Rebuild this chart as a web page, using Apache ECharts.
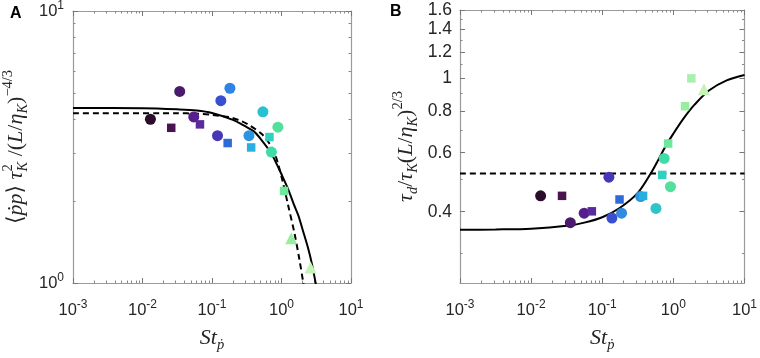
<!DOCTYPE html>
<html><head><meta charset="utf-8">
<script src="https://cdn.jsdelivr.net/npm/echarts@6/dist/echarts.min.js"></script>
<style>html,body{margin:0;padding:0;background:#fff}#c{width:760px;height:358px}</style>
</head><body><div id="c"></div>
<script>
// ---------------- data ----------------
const xTickValues = [0.001, 0.01, 0.1, 1, 10];
const xTickExponents = ['-3', '-2', '-1', '0', '1'];
const yTickValuesA = [1, 10];
const yTickExponentsA = ['0', '1'];
const yTickValuesB = [0.4, 0.6, 0.8, 1, 1.2, 1.4, 1.6];
const yTickLabelsB = ['0.4', '0.6', '0.8', '1', '1.2', '1.4', '1.6'];
const yMinorB = [0.3, 0.5, 0.7, 0.9, 1.1, 1.3, 1.5];
const yRangeB = [0.245, 1.6];

// Panel A: <pp> tau_K^2 / (L/eta_K)^(-4/3)
const A_circle_St  = [0.013, 0.0343, 0.0546, 0.120, 0.134, 0.181, 0.34, 0.54, 0.716, 0.887];
const A_circle_val = [4.0, 5.06, 4.08, 3.48, 4.68, 5.2, 3.48, 4.26, 3.03, 3.74];
const A_square_St  = [0.0259, 0.0671, 0.168, 0.366, 0.671, 1.09];
const A_square_val = [3.72, 3.83, 3.27, 3.15, 3.44, 2.18];
const A_tri_St     = [1.38, 2.62];
const A_tri_val    = [1.46, 1.14];
const A_solid_St   = [0.001, 0.01, 0.0316, 0.06, 0.1, 0.2, 0.3, 0.4, 0.5, 0.7, 0.8, 1.0, 1.25, 1.5, 1.75, 2.0, 2.4, 2.75, 3.1, 3.3];
const A_solid_val  = [4.40, 4.39, 4.35, 4.31, 4.22, 3.98, 3.77, 3.61, 3.39, 3.02, 2.83, 2.51, 2.21, 1.95, 1.77, 1.58, 1.35, 1.17, 1.0, 0.93];
const A_dash_St    = [0.001, 0.03, 0.063, 0.1, 0.178, 0.25, 0.34, 0.52, 0.68, 0.79, 0.9, 1.05, 1.24, 1.54, 1.81, 2.06, 2.15];
const A_dash_val   = [4.21, 4.21, 4.19, 4.15, 4.07, 3.96, 3.81, 3.53, 3.24, 3.02, 2.72, 2.34, 1.94, 1.52, 1.22, 1.0, 0.93];

// Panel B: tau_d / tau_K (L/eta_K)^(2/3)
const B_circle_St  = [0.0136, 0.0356, 0.0557, 0.124, 0.137, 0.187, 0.347, 0.569, 0.743, 0.91];
const B_circle_val = [0.446, 0.371, 0.396, 0.507, 0.383, 0.396, 0.444, 0.409, 0.577, 0.475];
const B_square_St  = [0.0272, 0.0714, 0.175, 0.375, 0.697, 0.845, 1.46, 1.79];
const B_square_val = [0.446, 0.401, 0.435, 0.446, 0.515, 0.639, 0.826, 1.0];
const B_tri_St     = [2.69];
const B_tri_val    = [0.928];
const B_solid_St   = [0.001, 0.00316, 0.01, 0.0316, 0.056, 0.1, 0.178, 0.316, 0.48, 0.63, 0.79, 1.0, 1.41, 2.0, 3.16, 5.62, 10];
const B_solid_val  = [0.353, 0.354, 0.356, 0.363, 0.371, 0.385, 0.411, 0.455, 0.520, 0.577, 0.631, 0.684, 0.762, 0.836, 0.920, 0.986, 1.023];
const B_dash_St    = [0.001, 10];
const B_dash_val   = [0.52, 0.52];

// ---------------- styles ----------------
const A_circle_col = ['#2b0d2b', '#4a1a6e', '#561f8c', '#4636b8', '#3a4fd0', '#2e83e3', '#2b95e0', '#27c2cf', '#40dca8', '#52e09c'];
const A_square_col = ['#4a1450', '#5b2a9c', '#2f6ad9', '#28aee0', '#2fd0c0', '#6ee89a'];
const A_tri_col    = ['#98ee9e', '#c4f4b8'];
const B_circle_col = ['#2b0d2b', '#4a1a6e', '#561f8c', '#4636b8', '#3a4fd0', '#2f8ae0', '#2b95e0', '#2ec4c8', '#40dca8', '#52e09c'];
const B_square_col = ['#4a1450', '#5b2a9c', '#2f6ad9', '#28aee0', '#2fd0c0', '#6ee89a', '#98ee9e', '#a8f0b0'];
const B_tri_col    = ['#c4f4b8'];

const SANS = 'Liberation Sans, Arial, sans-serif';
const SERIF = 'Liberation Serif, DejaVu Serif, serif';
const TXT = '#262626';
const AXC = '#9a9a9a';
const L = Math.log10;

function minorsBetween(lo, hi) {
  const out = [];
  for (let e = Math.floor(L(lo)); e < Math.ceil(L(hi)); e++)
    for (let m = 2; m <= 9; m++) out.push(L(m * Math.pow(10, e)));
  return out;
}
function pick(val, list, labels) {
  let bi = 0, bd = Infinity;
  list.forEach((v, i) => { const d = Math.abs(L(v) - val); if (d < bd) { bd = d; bi = i; } });
  return labels[bi];
}

const powRich = {
  b: { fontSize: 16.5, lineHeight: 22, fontFamily: SANS, color: TXT },
  s: { fontSize: 12, lineHeight: 12, fontFamily: SANS, color: TXT, verticalAlign: 'top' }
};

function buildAxes(dim, grid, min, max, majors, minors, label, name) {
  const pos = dim === 'x' ? ['bottom', 'top'] : ['left', 'right'];
  const common = { type: 'value', gridIndex: grid, min, max, scale: true, splitLine: { show: false } };
  const axes = [];
  pos.forEach((p, k) => {
    axes.push(Object.assign({}, common, {
      position: p,
      axisLine: { show: true, onZero: false, lineStyle: { color: AXC, width: 1.2 } },
      axisTick: { show: true, inside: true, length: 5, customValues: majors, lineStyle: { color: '#777', width: 1 } },
      axisLabel: k === 0 ? label : { show: false },
      name: k === 0 ? name.text : '',
      nameLocation: 'middle', nameGap: name.gap, nameRotate: dim === 'y' ? 90 : 0,
      nameTextStyle: name.style
    }));
    axes.push(Object.assign({}, common, {
      position: p,
      axisLine: { show: false, onZero: false },
      axisTick: { show: true, inside: true, length: 2.5, customValues: minors, lineStyle: { color: '#888', width: 1 } },
      axisLabel: { show: false }
    }));
  });
  return axes;
}

const nameRich = {
  n: { fontFamily: SERIF, fontSize: 22, lineHeight: 30, color: TXT },
  i: { fontFamily: SERIF, fontSize: 22, lineHeight: 30, fontStyle: 'italic', color: TXT },
  sp: { fontFamily: SERIF, fontSize: 14.5, lineHeight: 15, verticalAlign: 'top', color: TXT },
  sp0: { fontFamily: SERIF, fontSize: 14.5, lineHeight: 15, verticalAlign: 'top', color: TXT, padding: [0, -7.2, 0, 0] },
  sb: { fontFamily: SERIF, fontSize: 14.5, lineHeight: 15, verticalAlign: 'bottom', fontStyle: 'italic', color: TXT }
};
const nameStyle = { fontFamily: SERIF, fontSize: 22, color: TXT, rich: nameRich };

const xMajors = xTickValues.map(L);
const xMinors = minorsBetween(0.001, 10);
const xLabel = {
  show: true, margin: 16, customValues: xMajors, rich: powRich,
  formatter: v => '{b|10}{s|' + pick(v, xTickValues, xTickExponents) + '}'
};
const xName = { text: '{i|St}{sb|ṗ}', gap: 40, style: nameStyle };

const yMajorsA = yTickValuesA.map(L);
const yMinorsA = minorsBetween(1, 10);
const yLabelA = {
  show: true, margin: 9, customValues: yMajorsA, rich: powRich,
  formatter: v => '{b|10}{s|' + pick(v, yTickValuesA, yTickExponentsA) + '}'
};
const yNameA = {
  text: '{n|⟨}{i|ṗp}{n|⟩ }{i|τ}{sp0|2}{sb|K}{n| /(}{i|L}{n|/}{i|η}{sb|K}{n|)}{sp|−4/3}',
  gap: 42, style: nameStyle
};

const yMajorsB = yTickValuesB.map(L);
const yMinorsB = yMinorB.map(L);
const yLabelB = {
  show: true, margin: 8, customValues: yMajorsB, fontSize: 17.5, fontFamily: SANS, color: TXT,
  formatter: v => pick(v, yTickValuesB, yTickLabelsB)
};
const yNameB = {
  text: '{i|τ}{sb|d}{n|/}{i|τ}{sb|K}{n|(}{i|L}{n|/}{i|η}{sb|K}{n|)}{sp|2/3}',
  gap: 39, style: nameStyle
};

const xAxes = [].concat(
  buildAxes('x', 0, -3, 1, xMajors, xMinors, xLabel, xName),
  buildAxes('x', 1, -3, 1, xMajors, xMinors, xLabel, xName)
);
const yAxes = [].concat(
  buildAxes('y', 0, 0, 1, yMajorsA, yMinorsA, yLabelA, yNameA),
  buildAxes('y', 1, L(yRangeB[0]), L(yRangeB[1]), yMajorsB, yMinorsB, yLabelB, yNameB)
);

function pts(xs, ys, cols) {
  return xs.map((x, i) => cols ? { value: [L(x), L(ys[i])], itemStyle: { color: cols[i] } } : [L(x), L(ys[i])]);
}
function scatter(panel, symbol, size, xs, ys, cols) {
  return { type: 'scatter', xAxisIndex: panel * 4, yAxisIndex: panel * 4, symbol, symbolSize: size,
    data: pts(xs, ys, cols), itemStyle: { opacity: 1 }, z: 3, silent: true };
}
function line(panel, xs, ys, dashed) {
  return { type: 'line', xAxisIndex: panel * 4, yAxisIndex: panel * 4, data: pts(xs, ys), showSymbol: false,
    smooth: 0.3, clip: true, silent: true, z: 2,
    lineStyle: { color: '#000', width: 2, type: dashed ? [6, 4] : 'solid' } };
}

const option = {
  animation: false,
  backgroundColor: '#fff',
  title: [
    { text: 'A', left: 10, top: 6, padding: 0, textStyle: { fontSize: 16, fontWeight: 'bold', fontFamily: SANS, color: '#000' } },
    { text: 'B', left: 390, top: 4, padding: 0, textStyle: { fontSize: 16, fontWeight: 'bold', fontFamily: SANS, color: '#000' } }
  ],
  grid: [
    { left: 67, top: 11, width: 284, height: 284, containLabel: false },
    { left: 460, top: 10, width: 287, height: 286.5, containLabel: false }
  ],
  xAxis: xAxes,
  yAxis: yAxes,
  series: [
    line(0, A_solid_St, A_solid_val, false),
    line(0, A_dash_St, A_dash_val, true),
    scatter(0, 'circle', 11, A_circle_St, A_circle_val, A_circle_col),
    scatter(0, 'rect', 8.5, A_square_St, A_square_val, A_square_col),
    scatter(0, 'triangle', 12, A_tri_St, A_tri_val, A_tri_col),
    line(1, B_solid_St, B_solid_val, false),
    line(1, B_dash_St, B_dash_val, true),
    scatter(1, 'circle', 11, B_circle_St, B_circle_val, B_circle_col),
    scatter(1, 'rect', 8.5, B_square_St, B_square_val, B_square_col),
    scatter(1, 'triangle', 12, B_tri_St, B_tri_val, B_tri_col)
  ]
};
const chart = echarts.init(document.getElementById('c'), null, { renderer: 'canvas' });
chart.setOption(option);
</script></body></html>
